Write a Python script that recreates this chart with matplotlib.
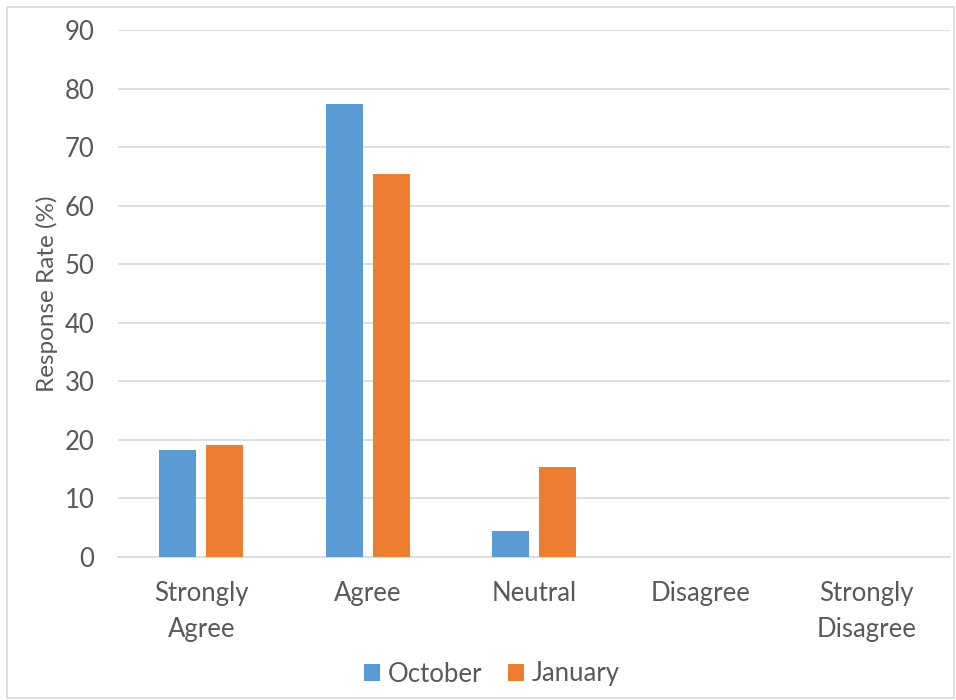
import numpy as np
import matplotlib.pyplot as plt
from matplotlib.patches import Rectangle

categories = ['Strongly\nAgree', 'Agree', 'Neutral', 'Disagree', 'Strongly\nDisagree']
october = [18.2, 77.3, 4.5, 0, 0]
january = [19.2, 65.4, 15.4, 0, 0]

plt.rcParams['font.family'] = ['Lato', 'DejaVu Sans']
txt = '#595959'

fig = plt.figure(figsize=(9.56, 7.0), dpi=100)
ax = fig.add_axes([118/956, 1 - 557/700, (950 - 118)/956, (557 - 30)/700])

x = np.arange(len(categories))
w = 0.223
ax.bar(x - 0.141, october, w, color='#5B9BD5', label='October', zorder=3)
ax.bar(x + 0.141, january, w, color='#ED7D31', label='January', zorder=3)

ax.set_xlim(-0.5, len(categories) - 0.5)
ax.set_ylim(0, 90)
ax.set_yticks(range(0, 91, 10))
ax.grid(axis='y', color='#D9D9D9', linewidth=1.2, zorder=0)
ax.set_xticks(x)
ax.set_xticklabels(categories, fontsize=18.5, color=txt, linespacing=1.55)
ax.tick_params(axis='y', labelsize=18.5, labelcolor=txt, length=0, pad=17)
ax.tick_params(axis='x', length=0, pad=17)
for s in ['top', 'right', 'left']:
    ax.spines[s].set_visible(False)
ax.spines['bottom'].set_color('#D9D9D9')
ax.spines['bottom'].set_linewidth(1.2)
ax.set_ylabel('Response Rate (%)', fontsize=17.5, color=txt, labelpad=5)

fig.legend(*ax.get_legend_handles_labels(), loc='center', bbox_to_anchor=(492/956, 1 - 674/700),
           ncol=2, frameon=False, fontsize=18.5, labelcolor=txt, handlelength=0.62,
           handleheight=0.62, handletextpad=0.3, columnspacing=1.0, borderpad=0)

fig.patches.append(Rectangle((7/956, 2/700), 1 - 9/956, 1 - 9/700, transform=fig.transFigure,
                             fill=False, edgecolor='#D9D9D9', linewidth=1.2))

fig.savefig('out.png', dpi=100)
